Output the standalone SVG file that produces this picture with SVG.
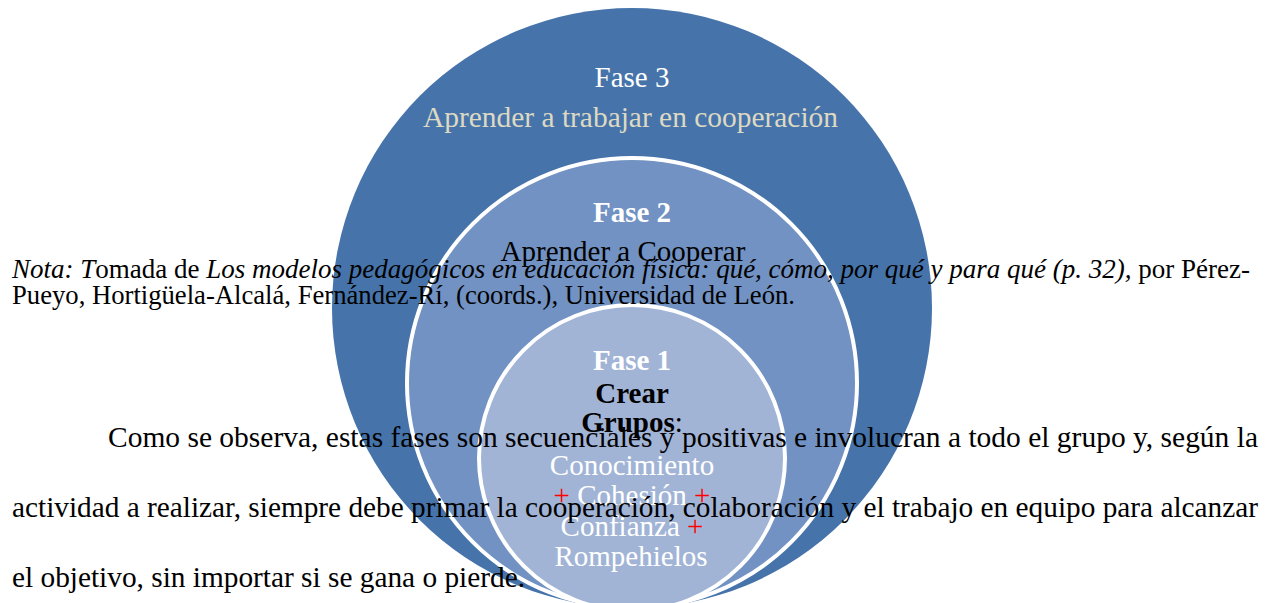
<svg xmlns="http://www.w3.org/2000/svg" width="1271" height="603" viewBox="0 0 1271 603">
<style>
  text { font-family: "Liberation Serif", "Times New Roman", serif; }
  .dg { font-size: 29px; text-anchor: middle; }
  .w { fill: #ffffff; }
  .beige { fill: #DDD9C3; }
  .blk { fill: #000000; }
  .b { font-weight: bold; }
  .plus { fill: #FF0000; }
  .nota { font-size: 27.2px; fill: #000000; }
  .body { font-size: 30px; fill: #000000; }
  .i { font-style: italic; }
  .ring { stroke: #ffffff; stroke-width: 4; }
</style>
<rect x="0" y="0" width="1271" height="603" fill="#ffffff"/>
<g id="fase3">
  <circle cx="632" cy="308" r="300" fill="#4674AA"/>
  <text class="dg w" x="632" y="87">Fase 3</text>
  <text class="dg beige" x="423" y="127" style="text-anchor:start" textLength="415" lengthAdjust="spacingAndGlyphs">Aprender a trabajar en cooperación</text>
</g>
<g id="fase2">
  <circle class="ring" cx="632" cy="383" r="225" fill="#7192C2"/>
  <text class="dg w b" x="632" y="222">Fase 2</text>
  <text class="dg blk" x="623" y="261">Aprender a Cooperar</text>
</g>
<g id="fase1">
  <circle class="ring" cx="632" cy="458" r="153" fill="#A1B4D6"/>
  <text class="dg w b" x="632" y="370">Fase 1</text>
  <text class="dg blk b" x="632" y="403">Crear</text>
  <text class="dg blk" x="632" y="432"><tspan class="b">Grupos</tspan>:</text>
  <text class="dg w" x="632" y="475">Conocimiento</text>
  <text class="dg w" x="632" y="505"><tspan class="plus">+</tspan> Cohesión <tspan class="plus">+</tspan></text>
  <text class="dg w" x="632" y="536">Confianza <tspan class="plus">+</tspan></text>
  <text class="dg w" x="631" y="566">Rompehielos</text>
</g>
<g id="connectors"/>
<g id="paragraphs">
  <text class="nota" x="12" y="278" textLength="1238" lengthAdjust="spacingAndGlyphs"><tspan class="i">Nota: T</tspan>omada de <tspan class="i">Los modelos pedagógicos en educación física: qué, cómo, por qué y para qué (p. 32),</tspan> por Pérez-</text>
  <text class="nota" x="12" y="304" textLength="783" lengthAdjust="spacingAndGlyphs">Pueyo, Hortigüela-Alcalá, Fernández-Rí, (coords.), Universidad de León.</text>
  <text class="body" x="108" y="447" textLength="1150" lengthAdjust="spacingAndGlyphs">Como se observa, estas fases son secuenciales y positivas e involucran a todo el grupo y, según la</text>
  <text class="body" x="12" y="517" textLength="1246" lengthAdjust="spacingAndGlyphs">actividad a realizar, siempre debe primar la cooperación, colaboración y el trabajo en equipo para alcanzar</text>
  <text class="body" x="12" y="587" textLength="513" lengthAdjust="spacingAndGlyphs">el objetivo, sin importar si se gana o pierde.</text>
</g>
</svg>
